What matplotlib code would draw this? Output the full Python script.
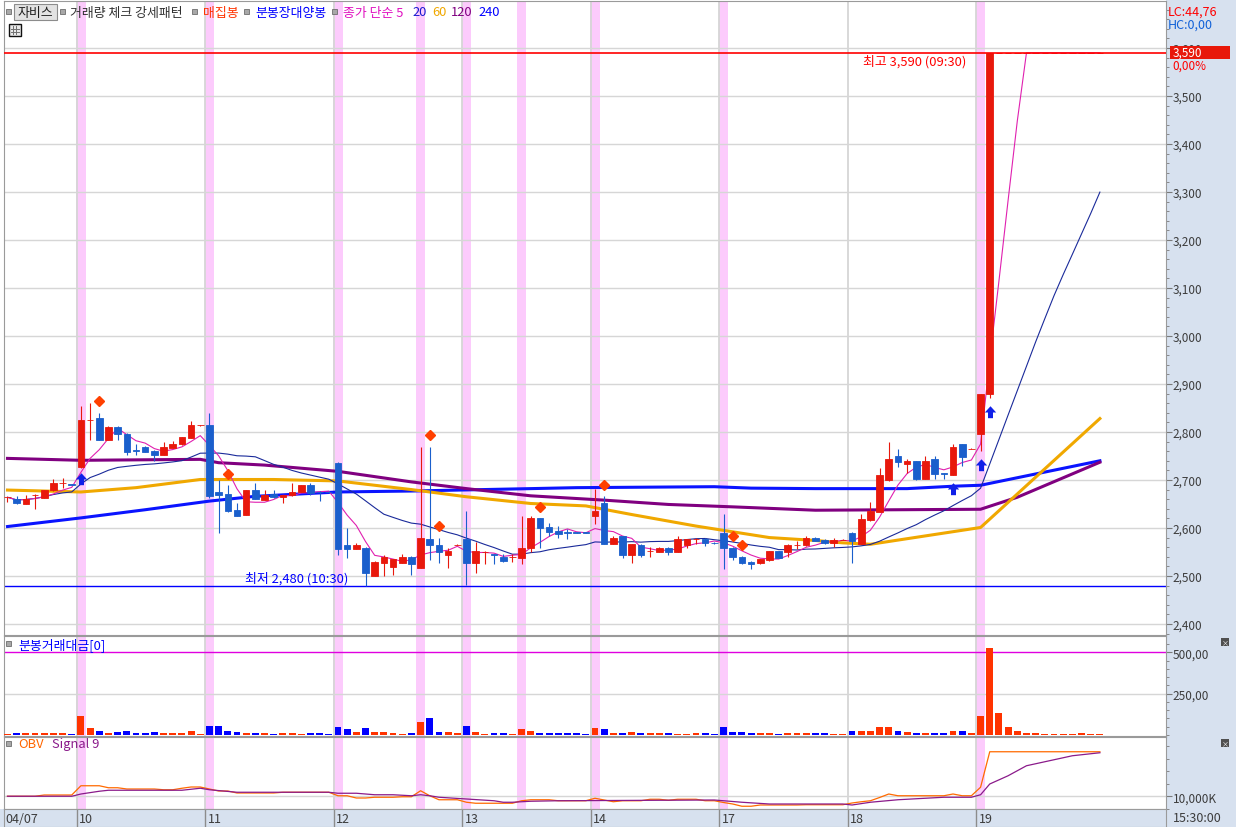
import numpy as np
import pandas as pd
import matplotlib
matplotlib.use('Agg')
import matplotlib.pyplot as plt
from matplotlib.patches import Rectangle
from matplotlib.path import Path
from matplotlib.lines import Line2D
from matplotlib.ticker import MultipleLocator, FixedLocator, FuncFormatter

plt.rcParams['font.family'] = ['Noto Sans CJK KR', 'DejaVu Sans']

W, H = 1236, 828

# 30 minute bars: last 8 bars of 04/07, then 14 bars per day
dates = ['04/07', '10', '11', '12', '13', '14', '17', '18', '19']
day_start = [0, 8, 22, 36, 50, 64, 78, 92, 106]

opens = [2664, 2661, 2649, 2668, 2663, 2679, 2693, 2691,
         2728, 2824, 2829, 2784, 2810, 2796, 2762, 2769, 2761, 2752, 2767, 2774, 2788, 2814,
         2815, 2675, 2670, 2637, 2628, 2680, 2659, 2670, 2664, 2668, 2675, 2689, 2675, 2675,
         2736, 2564, 2557, 2559, 2500, 2528, 2519, 2528, 2540, 2517, 2576, 2565, 2543, 2565,
         2576, 2528, 2550, 2545, 2540, 2540, 2538, 2559, 2620, 2601, 2594, 2591, 2591, 2591,
         2624, 2651, 2567, 2583, 2544, 2565, 2551, 2550, 2559, 2550, 2564, 2576, 2578, 2569,
         2590, 2559, 2540, 2530, 2528, 2533, 2551, 2550, 2565, 2564, 2580, 2575, 2568, 2575,
         2590, 2567, 2616, 2634, 2699, 2750, 2734, 2739, 2703, 2744, 2714, 2711, 2775, 2765,
         2795, 2880] + [3590] * 12
highs = [2664, 2666, 2668, 2670, 2680, 2701, 2704, 2692,
         2854, 2860, 2840, 2813, 2813, 2797, 2774, 2770, 2762, 2779, 2781, 2790, 2822, 2815,
         2840, 2700, 2689, 2651, 2680, 2693, 2679, 2679, 2669, 2693, 2690, 2693, 2677, 2677,
         2737, 2600, 2569, 2560, 2531, 2544, 2536, 2545, 2541, 2769, 2769, 2580, 2559, 2566,
         2635, 2570, 2553, 2546, 2546, 2546, 2625, 2625, 2621, 2610, 2605, 2598, 2592, 2592,
         2681, 2666, 2583, 2584, 2566, 2566, 2560, 2560, 2560, 2583, 2577, 2580, 2580, 2570,
         2630, 2560, 2541, 2531, 2536, 2552, 2552, 2566, 2572, 2583, 2581, 2576, 2580, 2576,
         2591, 2630, 2655, 2725, 2779, 2765, 2743, 2740, 2750, 2750, 2715, 2775, 2776, 2766,
         2880, 3590] + [3590] * 12
lows = [2655, 2649, 2649, 2639, 2662, 2678, 2684, 2689,
        2726, 2784, 2784, 2783, 2784, 2753, 2753, 2759, 2739, 2752, 2766, 2773, 2787, 2813,
        2663, 2589, 2634, 2624, 2627, 2660, 2658, 2662, 2652, 2667, 2674, 2668, 2656, 2672,
        2544, 2537, 2556, 2480, 2499, 2500, 2503, 2527, 2503, 2516, 2533, 2528, 2517, 2564,
        2481, 2507, 2524, 2524, 2530, 2529, 2524, 2549, 2559, 2584, 2580, 2576, 2589, 2589,
        2608, 2567, 2566, 2538, 2528, 2540, 2540, 2549, 2544, 2549, 2558, 2566, 2562, 2566,
        2514, 2533, 2525, 2514, 2524, 2532, 2537, 2539, 2557, 2563, 2572, 2567, 2560, 2574,
        2528, 2566, 2614, 2633, 2698, 2727, 2715, 2699, 2702, 2702, 2703, 2710, 2729, 2764,
        2761, 2870] + [3590] * 12
closes = [2664, 2653, 2661, 2668, 2679, 2693, 2693, 2690,
          2825, 2824, 2784, 2810, 2795, 2759, 2761, 2759, 2753, 2768, 2776, 2789, 2815, 2814,
          2666, 2668, 2635, 2625, 2679, 2661, 2668, 2664, 2668, 2675, 2689, 2672, 2674, 2674,
          2557, 2557, 2564, 2507, 2530, 2540, 2535, 2540, 2524, 2580, 2564, 2549, 2551, 2565,
          2528, 2551, 2550, 2544, 2531, 2540, 2559, 2620, 2600, 2592, 2588, 2590, 2590, 2590,
          2636, 2567, 2579, 2544, 2566, 2544, 2551, 2559, 2550, 2576, 2576, 2576, 2568, 2568,
          2558, 2540, 2528, 2524, 2535, 2551, 2538, 2565, 2565, 2580, 2573, 2568, 2575, 2575,
          2573, 2619, 2635, 2711, 2744, 2738, 2739, 2702, 2739, 2713, 2713, 2769, 2748, 2765,
          2879, 3590] + [3590] * 12

# trading value per bar (million won)
volume = [8, 12, 12, 12, 12, 12, 12, 6,
          118, 43, 24, 12, 18, 24, 12, 12, 18, 12, 12, 12, 24, 6,
          57, 57, 24, 18, 12, 12, 12, 6, 12, 12, 6, 12, 12, 6,
          51, 37, 18, 43, 18, 18, 12, 6, 12, 81, 104, 18, 18, 12,
          57, 18, 6, 12, 12, 6, 37, 24, 12, 12, 12, 12, 12, 6,
          43, 37, 12, 12, 18, 12, 12, 12, 12, 6, 6, 12, 12, 6,
          51, 18, 18, 12, 12, 12, 6, 12, 12, 12, 12, 12, 6, 6,
          24, 24, 24, 49, 49, 24, 18, 12, 12, 12, 12, 24, 24, 12,
          116, 524, 134, 49, 24, 12, 12, 6, 6, 6, 6, 12, 6, 6]

# OBV (K)
obv = [10000] * 4 + [10005] * 4 + \
      [10042] * 3 + [10034] * 2 + [10029] * 4 + [10026] * 2 + [10032] + [10037] * 2 + \
      [10029] + [10021] * 2 + [10013] * 5 + [10016] * 6 + \
      [10002] * 2 + [9993] * 2 + [9996] * 3 + [9998] * 2 + [10022, 10002] + [9986] * 3 + \
      [9976] + [9972] * 5 + [9982] + [9986] * 3 + [9982] * 4 + \
      [9992, 9985, 9978] + [9982] * 3 + [9988] * 2 + [9984] + [9988] * 3 + [9982] * 2 + \
      [9975, 9969] + [9960] * 2 + [9965] * 5 + [9966] * 5 + \
      [9973, 9978, 9982, 9995, 10009] + [10002] * 6 + [10009] + [10002] * 2 + \
      [10036] + [10178] * 13
sig_idx = [0, 7, 8, 10, 11, 19, 21, 22, 25, 35, 36, 38, 40, 42, 44, 45, 46, 47, 50, 53, 54,
           55, 57, 60, 77, 80, 83, 91, 92, 94, 97, 102, 105, 106, 107, 109, 111, 114, 116, 119]
sig_val = [10000, 10000, 10009, 10020, 10024, 10024, 10032, 10026, 10016, 10016, 10012, 10012,
           10006, 10006, 10002, 10006, 10002, 9996, 9989, 9982, 9976, 9976, 9980, 9982, 9985,
           9976, 9969, 9969, 9965, 9976, 9986, 9996, 9996, 10006, 10049, 10082, 10122, 10146,
           10162, 10174]

# long moving averages
ma60_idx = [0, 8, 14, 21, 29, 36, 44, 50, 57, 63, 68, 75, 83, 88, 91, 94, 106, 119]
ma60_val = [2679, 2675, 2684, 2701, 2701, 2698, 2680, 2665, 2651, 2646, 2628, 2604, 2580,
            2574, 2569, 2566, 2601, 2828]
ma120_idx = [0, 8, 21, 23, 28, 36, 44, 50, 57, 65, 72, 79, 88, 106, 110, 119]
ma120_val = [2745, 2741, 2743, 2736, 2731, 2718, 2696, 2682, 2667, 2658, 2649, 2644, 2637,
             2639, 2664, 2737]
ma240_idx = [0, 8, 15, 22, 27, 36, 44, 57, 62, 77, 81, 88, 98, 103, 106, 119]
ma240_val = [2603, 2621, 2638, 2656, 2666, 2675, 2677, 2682, 2684, 2686, 2683, 2682, 2682,
             2687, 2689, 2740]

pink_idx = [8, 22, 36, 45, 50, 56, 64, 78, 106]
gather_idx = [10, 24, 46, 47, 58, 65, 79, 80]
gather_val = [2864, 2712, 2794, 2604, 2644, 2689, 2583, 2565]
long_idx = [8, 103, 106, 107]
long_val = [2702, 2681, 2731, 2842]

day_high, day_low = 3590, 2480

RED, BLUE = '#e8180c', '#1a5fcc'
VRED, VBLUE = '#ff3300', '#0000ff'
PINK = '#fccbfc'
GRID = '#d6d6d6'
PANEL = '#d7e1ef'
SPINE = '#9a9a9a'
LBL = '#3c3c3c'
KFS = 9.3   # korean label size


def box(x0, y0, x1, y1):
    return [x0 / W, 1 - y1 / H, (x1 - x0) / W, (y1 - y0) / H]


def fx(x):
    return x / W


def fy(y):
    return 1 - y / H


def ftext(x, y, s, **kw):
    kw.setdefault('va', 'center')
    kw.setdefault('ha', 'left')
    kw.setdefault('fontsize', KFS)
    fig.text(fx(x), fy(y), s, **kw)


def square(x, y, size=5, fc='#a8a8a8', ec='#6e6e6e'):
    fig.add_artist(Rectangle((fx(x), fy(y + size)), size / W, size / H,
                             transform=fig.transFigure, fc=fc, ec=ec, lw=0.6, zorder=3))


fig = plt.figure(figsize=(W / 100, H / 100), dpi=100)
fig.add_artist(Rectangle((fx(1166), 0), 1 - fx(1166), 1, transform=fig.transFigure,
                         fc=PANEL, ec='none', zorder=-1))
fig.add_artist(Rectangle((0, 0), 1, 18 / H, transform=fig.transFigure,
                         fc=PANEL, ec='none', zorder=-1))

ax = fig.add_axes(box(4, 2, 1166, 636))
axv = fig.add_axes(box(4, 637, 1166, 737), sharex=ax)
axo = fig.add_axes(box(4, 738, 1166, 810), sharex=ax)
axd = fig.add_axes(box(4, 810, 1166, 828), sharex=ax)

x = np.arange(len(opens))
o = np.array(opens)
c = np.array(closes)
up = c >= o
ccol = np.where(up, RED, BLUE)

for a in (ax, axv, axo):
    for i in pink_idx:
        a.axvspan(i - 0.5, i + 0.5, color=PINK, lw=0, zorder=0)
    for s in day_start[1:]:
        a.axvline(s - 0.45, color=GRID, lw=1.3, zorder=0.5)
    for sp in a.spines.values():
        sp.set_color(SPINE)
    a.tick_params(axis='x', bottom=False, labelbottom=False)
    a.yaxis.tick_right()
    a.tick_params(axis='y', which='both', direction='out', color='#7a7a7a',
                  labelcolor=LBL, labelsize=8.5, pad=1)
    a.tick_params(axis='y', which='major', length=4)
    a.tick_params(axis='y', which='minor', length=2.5)

ax.set_xlim(-0.38, 126.2)

# price panel
ax.set_ylim(2377, 3698)
ax.yaxis.set_major_locator(MultipleLocator(100))
ax.yaxis.set_minor_locator(MultipleLocator(20))
ax.yaxis.set_major_formatter(FuncFormatter(lambda v, p: f'{int(v):,}'))
ax.grid(axis='y', which='major', color=GRID, lw=1, zorder=0.4)

ax.plot(ma240_idx, ma240_val, color='#0a14ff', lw=2.2, zorder=2)
ax.plot(ma120_idx, ma120_val, color='#800080', lw=2.2, zorder=2)
ax.plot(ma60_idx, ma60_val, color='#f0a800', lw=2.2, zorder=2)
cs = pd.Series(closes, dtype=float)
ax.plot(x, cs.rolling(20, min_periods=1).mean(), color='#1a2a9a', lw=0.8, zorder=2.1)
ax.plot(x, cs.rolling(5, min_periods=1).mean(), color='#e020b0', lw=0.8, zorder=2.1)

ax.axhline(day_high, color='#ff0000', lw=1.2, zorder=3.5)
ax.axhline(day_low, color='#0000ff', lw=1, zorder=2.5)

ax.vlines(x, lows, highs, colors=ccol, lw=0.8, zorder=3)
ax.bar(x, np.abs(c - o), bottom=np.minimum(o, c), width=0.72, color=ccol,
       edgecolor=ccol, lw=0.6, zorder=3)

ax.plot(gather_idx, gather_val, ls='none', marker='D', ms=5.5, color='#ff4000', zorder=4)
arrow = Path([(-0.5, 0.0), (0.0, 0.55), (0.5, 0.0), (0.22, 0.0), (0.22, -0.5),
              (-0.22, -0.5), (-0.22, 0.0), (-0.5, 0.0)], closed=True)
ax.plot(long_idx, long_val, ls='none', marker=arrow, ms=9, color='#1020e8', mec='none', zorder=4)

# volume panel
axv.bar(x, volume, width=0.75, color=np.where(up, VRED, VBLUE), lw=0, zorder=3)
axv.set_ylim(-6, 599)
axv.yaxis.set_major_locator(FixedLocator([250, 500]))
axv.yaxis.set_minor_locator(MultipleLocator(50))
axv.yaxis.set_major_formatter(FuncFormatter(lambda v, p: f'{int(v)},00'))
axv.axhline(250, color=GRID, lw=1, zorder=0.4)
axv.axhline(500, color='#e000e0', lw=1, zorder=2)

# OBV panel
axo.plot(x, obv, color='#ff6a00', lw=0.9, zorder=3)
axo.plot(sig_idx, sig_val, color='#8a1a8a', lw=0.9, zorder=3)
axo.set_ylim(9949, 10237)
axo.yaxis.set_major_locator(FixedLocator([10000]))
axo.yaxis.set_minor_locator(MultipleLocator(50))
axo.yaxis.set_major_formatter(FuncFormatter(lambda v, p: f'{int(v):,}K'))
axo.axhline(10000, color=GRID, lw=1, zorder=0.4)

# date strip
axd.set_facecolor(PANEL)
axd.set_ylim(0, 1)
axd.set_yticks([])
axd.tick_params(axis='x', bottom=False, labelbottom=False)
for sp in axd.spines.values():
    sp.set_color(SPINE)
for d, s in zip(dates, day_start):
    if s > 0:
        axd.axvline(s - 0.45, color='#8c8c8c', lw=1)
    axd.text(s - 0.2, 0.45, d, ha='left', va='center', fontsize=9, color=LBL)
ftext(1173, 819, '15:30:00', fontsize=9, color=LBL)

# header legend
square(6, 10)
fig.add_artist(Rectangle((fx(14), fy(21)), 43 / W, 16 / H, transform=fig.transFigure,
                         fc='#e2e2e2', ec='#8c8c8c', lw=0.8, zorder=3))
ftext(35.5, 13, '자비스', ha='center', color='#202020', zorder=4)
square(60, 10)
ftext(70, 13, '거래량 체크 강세패턴', color='#303030')
square(192, 10)
ftext(203, 13, '매집봉', color='#ff3300')
square(244, 10)
ftext(255, 13, '분봉장대양봉', color='#0000ff')
square(332, 10)
ftext(343, 13, '종가 단순 5', color='#e010c0')
ftext(412, 13, '20', color='#1a1ad0')
ftext(432, 13, '60', color='#f0a800')
ftext(451, 13, '120', color='#800080')
ftext(478, 13, '240', color='#0000ff')

# table icon
fig.add_artist(Rectangle((fx(9), fy(37)), 12 / W, 12 / H, transform=fig.transFigure,
                         fc='#e8e8e8', ec='#101010', lw=1, zorder=3))
for k in (1, 2):
    fig.add_artist(Line2D([fx(11), fx(19)], [fy(27 + 3 * k), fy(27 + 3 * k)],
                          transform=fig.transFigure, color='#707070', lw=0.7, zorder=4))
    fig.add_artist(Line2D([fx(11 + 3 * k - 1), fx(11 + 3 * k - 1)], [fy(27), fy(35)],
                          transform=fig.transFigure, color='#707070', lw=0.7, zorder=4))

ftext(966, 62, '최고 3,590 (09:30)', ha='right', color='#ff0000')
ftext(245, 579, '최저 2,480 (10:30)', color='#0000ff')

# right panel labels
ftext(1168, 12, 'LC:44,76', color='#ff0000', fontsize=9)
ftext(1168, 25, 'HC:0,00', color='#1060d8', fontsize=9)
fig.add_artist(Rectangle((fx(1170), fy(60)), 60 / W, 13 / H, transform=fig.transFigure,
                         fc='#e8180a', ec='none', zorder=3))
ftext(1173, 53.5, '3,590', color='white', fontsize=8.5, zorder=4)
ftext(1172, 66, '0,00%', color='#ff0000', fontsize=8.5)

# panel labels
square(6, 642)
ftext(18, 645, '분봉거래대금[0]', color='#0000ff')
square(6, 742)
ftext(18, 745, 'OBV', color='#ff6600')
ftext(52, 745, 'Signal 9', color='#8a1a8a')
for yy in (639, 740):
    fig.add_artist(Rectangle((fx(1221), fy(yy + 8)), 8 / W, 8 / H, transform=fig.transFigure,
                             fc='#505050', ec='none', zorder=3))
    ftext(1225, yy + 4, '×', ha='center', color='white', fontsize=5, zorder=4)

fig.savefig('out.png', dpi=100)
